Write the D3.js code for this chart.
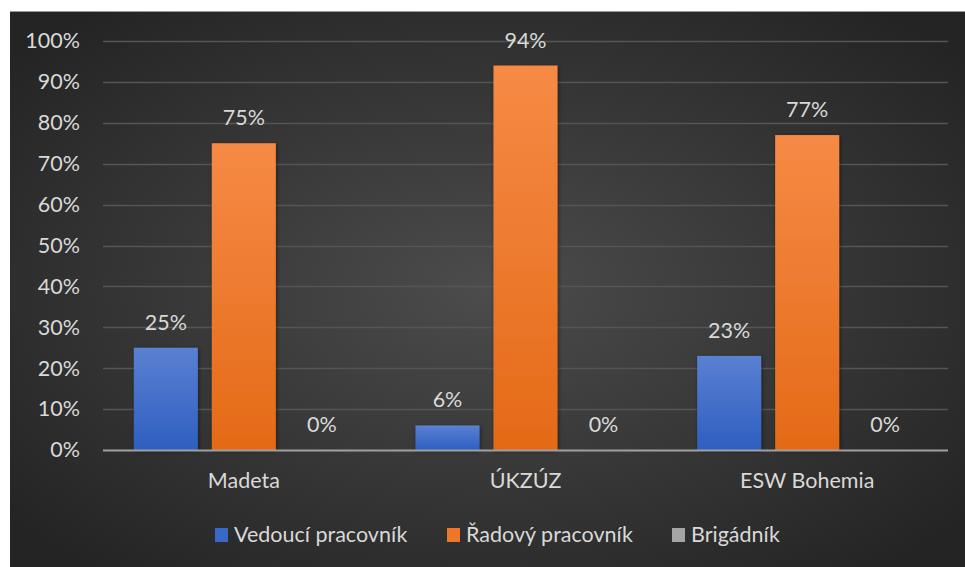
<!DOCTYPE html>
<html>
<head>
<meta charset="utf-8">
<script src="https://cdn.jsdelivr.net/npm/d3@7"></script>
<style>
  body { margin: 0; background: #fff; }
  svg { display: block; }
  text { font-family: Lato, "Open Sans", sans-serif; fill: #d9d9d9; }
</style>
</head>
<body>
<svg id="chart" width="965" height="567"></svg>
<script>
const categories = ["Madeta", "ÚKZÚZ", "ESW Bohemia"];
const seriesNames = ["Vedoucí pracovník", "Řadový pracovník", "Brigádník"];
const vedouci = [0.25, 0.06, 0.23];
const radovy = [0.75, 0.94, 0.77];
const brigadnik = [0, 0, 0];
const yTicks = [0, 0.1, 0.2, 0.3, 0.4, 0.5, 0.6, 0.7, 0.8, 0.9, 1];

const seriesValues = [vedouci, radovy, brigadnik];
const colors = [
  {top: "#5a80d2", bottom: "#2e5fc0", legend: "#3a68c8"},
  {top: "#f68a45", bottom: "#e46a17", legend: "#ee7628"},
  {top: "#b0b0b0", bottom: "#8f8f8f", legend: "#a5a5a5"}
];
const fontSize = 21.5;

const svg = d3.select("#chart");
const defs = svg.append("defs");

const bg = defs.append("radialGradient").attr("id", "bg")
  .attr("cx", "50%").attr("cy", "50%").attr("r", "65%");
bg.append("stop").attr("offset", "0%").attr("stop-color", "#4c4c4c");
bg.append("stop").attr("offset", "100%").attr("stop-color", "#242424");

colors.forEach(function (c, i) {
  const g = defs.append("linearGradient").attr("id", "bar" + i)
    .attr("x1", 0).attr("y1", 0).attr("x2", 0).attr("y2", 1);
  g.append("stop").attr("offset", "0%").attr("stop-color", c.top);
  g.append("stop").attr("offset", "100%").attr("stop-color", c.bottom);
});

const shadow = defs.append("filter").attr("id", "shadow")
  .attr("x", "-20%").attr("y", "-20%").attr("width", "140%").attr("height", "140%");
shadow.append("feDropShadow").attr("dx", 1).attr("dy", 1).attr("stdDeviation", 2)
  .attr("flood-color", "#000").attr("flood-opacity", 0.45);

// chart area background
svg.append("rect").attr("x", 10).attr("y", 11).attr("width", 955).attr("height", 556)
  .attr("fill", "url(#bg)");
svg.append("line").attr("x1", 10).attr("x2", 965).attr("y1", 11.5).attr("y2", 11.5)
  .attr("stroke", "#9a9a9a").attr("stroke-width", 1);

const margin = {left: 103, right: 17, top: 41, bottom: 117};
const width = 965 - margin.left - margin.right;
const height = 567 - margin.top - margin.bottom;
const g = svg.append("g").attr("transform", "translate(" + margin.left + "," + margin.top + ")");

const x0 = d3.scaleBand().domain(categories).range([0, width]).paddingInner(0).paddingOuter(0);
const y = d3.scaleLinear().domain([0, 1]).range([height, 0]);

// gridlines
g.append("g")
  .selectAll("line")
  .data(yTicks.filter(function (d) { return d > 0; }))
  .join("line")
  .attr("x1", 0).attr("x2", width)
  .attr("y1", function (d) { return Math.round(y(d)) + 0.5; })
  .attr("y2", function (d) { return Math.round(y(d)) + 0.5; })
  .attr("stroke", "#555555").attr("stroke-width", 1.5);

// y axis labels
const yAxis = g.append("g")
  .call(d3.axisLeft(y).tickValues(yTicks).tickFormat(d3.format(".0%")).tickSize(0).tickPadding(23));
yAxis.select(".domain").remove();
yAxis.selectAll("text").attr("font-size", fontSize).attr("fill", "#d9d9d9")
  .style("font-family", "Lato, sans-serif");

// bars
const barW = 64, gap = 14;
const groupW = 3 * barW + 2 * gap;
const x1 = d3.scaleBand().domain(seriesNames).range([0, groupW]).paddingInner(gap / (barW + gap)).paddingOuter(0);

const groups = g.append("g").selectAll("g")
  .data(categories)
  .join("g")
  .attr("transform", function (d) {
    return "translate(" + (x0(d) + (x0.bandwidth() - groupW) / 2) + ",0)";
  });

groups.each(function (cat, ci) {
  const grp = d3.select(this);
  seriesNames.forEach(function (s, si) {
    const v = seriesValues[si][ci];
    if (v > 0) {
      grp.append("rect")
        .attr("x", x1(s))
        .attr("y", y(v))
        .attr("width", x1.bandwidth())
        .attr("height", height - y(v))
        .attr("fill", "url(#bar" + si + ")")
        .attr("filter", "url(#shadow)");
    }
    grp.append("text")
      .attr("x", x1(s) + x1.bandwidth() / 2)
      .attr("y", y(v) - 18)
      .attr("text-anchor", "middle")
      .attr("font-size", fontSize)
      .text(d3.format(".0%")(v));
  });
});

// x axis line
g.append("line").attr("x1", 0).attr("x2", width)
  .attr("y1", height + 0.5).attr("y2", height + 0.5)
  .attr("stroke", "#a0a0a0").attr("stroke-width", 2);

// category labels
const xAxis = g.append("g").attr("transform", "translate(0," + height + ")")
  .call(d3.axisBottom(x0).tickSize(0).tickPadding(23));
xAxis.select(".domain").remove();
xAxis.selectAll("text").attr("font-size", fontSize).attr("fill", "#d9d9d9")
  .style("font-family", "Lato, sans-serif");

// legend
const legendX = [215, 447, 672];
const legend = svg.append("g");
seriesNames.forEach(function (s, i) {
  legend.append("rect").attr("x", legendX[i]).attr("y", 528).attr("width", 13).attr("height", 14)
    .attr("fill", colors[i].legend);
  legend.append("text").attr("x", legendX[i] + 19).attr("y", 542)
    .attr("font-size", fontSize).text(s);
});
</script>
</body>
</html>
